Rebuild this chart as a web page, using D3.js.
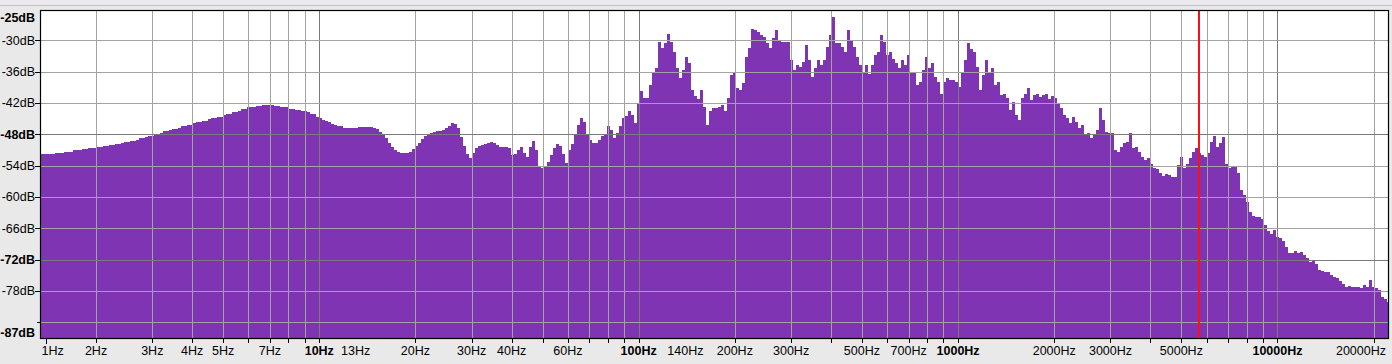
<!DOCTYPE html>
<html><head><meta charset="utf-8">
<script src="https://cdn.jsdelivr.net/npm/d3@7"></script>
<style>
html,body{margin:0;padding:0;background:#e9e9e9;overflow:hidden;}
svg{display:block;font-family:"Liberation Sans",Arial,Helvetica,sans-serif;}
</style>
</head><body>
<svg id="chart" width="1392" height="364"></svg>
<script>
// ---- data ----
const startHz = 1.3354;          // lowest analysed frequency (left edge)
const endHz = 22180;             // highest analysed frequency (right edge)
const binsPerDecade = 106.5;     // log-spaced analysis bins
const levelDb = [
-51.8,-51.8,-51.8,-51.8,-51.8,-51.5,-51.5,-51.5,-51.3,-51.3,
-51.3,-51.0,-51.0,-51.0,-50.8,-50.8,-50.6,-50.6,-50.6,-50.4,
-50.4,-50.2,-50.2,-50.0,-50.0,-49.8,-49.8,-49.6,-49.4,-49.4,
-49.2,-49.2,-49.0,-48.8,-48.8,-48.5,-48.3,-48.3,-47.9,-47.9,
-47.7,-47.4,-47.4,-47.2,-47.0,-47.0,-46.8,-46.5,-46.4,-46.2,
-46.2,-45.8,-45.7,-45.7,-45.4,-45.4,-45.1,-44.9,-44.9,-44.6,
-44.6,-44.3,-44.1,-44.1,-43.8,-43.8,-43.5,-43.1,-43.1,-42.8,
-42.8,-42.8,-42.6,-42.6,-42.45,-42.45,-42.45,-42.45,-42.6,-42.6,
-42.7,-42.8,-42.8,-43.1,-43.1,-43.3,-43.3,-43.5,-43.5,-43.8,
-44.1,-44.2,-44.6,-44.9,-45.2,-45.5,-45.7,-46.0,-46.3,-46.4,
-46.5,-46.7,-46.7,-46.7,-46.7,-46.7,-46.6,-46.6,-46.6,-46.6,
-46.6,-46.7,-47.0,-47.5,-48.0,-48.8,-49.6,-50.4,-51.0,-51.3,
-51.5,-51.5,-51.5,-51.3,-50.9,-50.3,-49.6,-48.9,-48.3,-48.0,
-47.8,-47.6,-47.4,-47.3,-47.1,-46.8,-46.5,-45.9,-46.0,-46.8,
-48.5,-50.3,-51.7,-52.5,-51.5,-50.6,-50.3,-50.1,-49.9,-49.6,
-49.4,-49.6,-50.0,-50.5,
-50.4,-50.4,-50.7,-52.0,-51.8,-51.0,-50.5,-51.5,-52.4,-50.4,
-49.3,-51.0,-54.2,-54.4,-54.1,-53.3,-52.0,-50.7,-49.9,-50.2,
-51.7,-53.5,-51.0,-49.8,-48.2,-46.3,-44.8,-45.6,-48.2,-49.0,
-49.6,-49.6,-49.0,-48.3,-48.0,-46.5,-47.2,-48.7,-47.7,-46.5,
-44.9,-44.5,-43.5,-44.3,-45.9,-42.1,-39.8,-41.1,-41.1,-38.6,
-36.0,-35.4,-30.3,-31.5,-30.6,-28.7,-30.3,-32.2,-35.4,-37.2,
-35.7,-33.2,-34.4,-39.5,-40.7,-41.3,-39.5,-42.7,-46.2,-43.6,
-43.0,-43.0,-42.7,-42.4,-43.6,-41.1,-36.7,-36.2,-39.2,-39.5,
-38.2,-33.2,-31.5,-27.9,-28.0,-28.5,-29.0,-29.4,-30.5,-31.5,
-29.6,-28.0,-30.1,-30.3,-30.3,-30.3,-33.8,-35.7,-34.8,-35.2,
-34.1,-30.9,-33.8,-37.0,-35.4,-33.8,-34.8,-33.8,-31.2,-29.0,
-25.5,-30.6,-30.6,-31.2,-32.2,-28.0,-30.1,-31.2,-33.2,-34.8,
-36.0,-34.8,-36.4,-34.8,-32.9,-32.2,-29.0,-30.3,-32.9,-32.2,
-33.5,-34.4,-35.4,-33.8,-34.8,-32.9,-36.0,-36.0,-38.6,-37.9,
-35.7,-33.2,-35.4,-34.4,-37.0,-37.9,-40.2,-37.9,-37.3,-37.6,
-37.6,-37.9,-38.9,
-36.3,-33.8,-30.6,-31.7,-32.2,-35.05,-39.5,-36.6,-33.8,-36.0,
-35.4,-38.6,-37.9,-40.5,-40.2,-41.1,-43.35,-41.75,-44.3,-45.3,
-41.1,-40.2,-39.2,-41.4,-40.5,-40.2,-40.9,-40.5,-40.2,-41.3,
-40.7,-41.1,-42.1,-43.0,-44.3,-44.9,-45.9,-44.6,-45.6,-46.7,
-46.2,-48.1,-47.8,-48.8,-48.1,-47.2,-43.0,-45.3,-47.5,-47.8,
-47.8,-51.0,-51.3,-50.4,-49.7,-49.4,-47.8,-50.7,-50.4,-51.3,
-52.3,-52.9,-52.6,-53.7,-54.5,-54.7,-55.35,-55.9,-55.6,-55.8,
-56.1,-56.1,-53.9,-52.3,-54.5,-53.6,-52.6,-51.3,-50.7,-51.6,
-52.0,-52.3,-51.5,-49.4,-48.3,-50.4,-49.7,-48.5,-53.6,-54.5,
-54.2,-54.2,-55.5,-58.7,-59.6,-60.9,-62.8,-63.6,-63.8,-63.9,
-64.3,-65.4,-66.6,-67.0,-66.3,-67.6,-67.9,-68.4,-69.6,-70.8,
-70.8,-70.3,-70.7,-70.5,-71.1,-71.6,-72.4,-72.2,-72.8,-74.0,
-74.1,-74.3,-74.3,-74.9,-75.3,-75.6,-76.0,-76.7,-77.2,-77.1,
-77.2,-77.2,-77.3,-77.5,-76.9,-77.2,-75.9,-77.2,-77.5,-77.8,
-79.1,-79.6,-80.05
];
const dbMin = -87;
const dbMax = -24.2;
const yGridDb = [-30,-36,-42,-48,-54,-60,-66,-72,-78,-84];
const yLabelDb = [-30,-36,-42,-48,-54,-60,-66,-72,-78];
const yMajorDb = [-48,-72];
const yEdgeLabels = ["-25dB","-87dB"];
const xLabelHz = [1,2,3,4,5,7,10,13,20,30,40,60,100,140,200,300,500,700,1000,2000,3000,5000,10000,20000];
const xMajorHz = [10,100,1000,10000];
const markerHz = 5667;

// ---- layout ----
const W = 1392, H = 364;
const L = 40, R = 1388, T = 10, B = 338;
const purple = "#7f34b4";

const svg = d3.select("#chart");
const x = d3.scaleLog().domain([startHz, endHz]).range([L, R]);
const y = d3.scaleLinear().domain([dbMin, dbMax]).range([B, T]);

// background
svg.append("rect").attr("width", W).attr("height", H).attr("fill", "#e9e9e9");
svg.append("rect").attr("width", W).attr("height", 5).attr("fill", "#ebe9ee");
svg.append("line").attr("x1", 0).attr("x2", W).attr("y1", 5.5).attr("y2", 5.5)
  .attr("stroke", "#c2c2c2").attr("stroke-width", 1);
svg.append("rect").attr("x", L).attr("y", T).attr("width", R - L).attr("height", B - T).attr("fill", "#ffffff");

svg.append("clipPath").attr("id", "plotClip").append("rect")
  .attr("x", L + 1).attr("y", T + 1).attr("width", R - L - 1).attr("height", B - T - 1);

// spectrum fill
const pts = levelDb.map((v, i) => ({ f: startHz * Math.pow(10, i / binsPerDecade), v }));
pts.push({ f: startHz * Math.pow(10, levelDb.length / binsPerDecade), v: levelDb[levelDb.length - 1] });
const area = d3.area()
  .x(d => x(d.f)).y0(y(dbMin)).y1(d => y(d.v))
  .curve(d3.curveStepAfter);
svg.append("path").datum(pts).attr("d", area)
  .attr("fill", purple).attr("clip-path", "url(#plotClip)")
  .attr("shape-rendering", "crispEdges");

// grid
const grid = svg.append("g").attr("clip-path", "url(#plotClip)").attr("shape-rendering", "crispEdges");
const gridHz = [];
for (let k = 0; k <= 4; k++) for (let n = 1; n <= 9; n++) {
  const f = n * Math.pow(10, k);
  if (f > startHz && f < endHz) gridHz.push(f);
}
const px = v => Math.round(v) + 0.5;
grid.selectAll("line.v").data(gridHz).join("line")
  .attr("x1", d => px(x(d))).attr("x2", d => px(x(d)))
  .attr("y1", T).attr("y2", B)
  .attr("stroke", d => xMajorHz.includes(d) ? "#7a7a7a" : "#a3a3a3").attr("stroke-width", 1);
grid.selectAll("line.h").data(yGridDb).join("line")
  .attr("x1", L).attr("x2", R)
  .attr("y1", d => px(y(d))).attr("y2", d => px(y(d)))
  .attr("stroke", d => yMajorDb.includes(d) ? "#7a7a7a" : "#a3a3a3").attr("stroke-width", 1);

// border
svg.append("rect").attr("x", L + 0.5).attr("y", T + 0.5).attr("width", R - L).attr("height", B - T)
  .attr("fill", "none").attr("stroke", "#000").attr("stroke-width", 1.2);

// y axis labels and ticks
const yAx = svg.append("g");
yAx.selectAll("line").data(yGridDb).join("line")
  .attr("x1", d => yLabelDb.includes(d) ? L - 5 : L - 3).attr("x2", L)
  .attr("y1", d => px(y(d))).attr("y2", d => px(y(d)))
  .attr("stroke", "#000").attr("stroke-width", 1);
yAx.selectAll("text.t").data(yLabelDb).join("text")
  .attr("x", L - 5).attr("y", d => y(d) + 4.5)
  .attr("text-anchor", "end").attr("font-size", 12.5)
  .attr("font-weight", d => yMajorDb.includes(d) ? "bold" : "normal")
  .attr("fill", "#000").text(d => d + "dB");
yAx.append("text").attr("x", L - 5).attr("y", T + 12.3).attr("text-anchor", "end")
  .attr("font-size", 12.5).attr("font-weight", "bold").text(yEdgeLabels[0]);
yAx.append("text").attr("x", L - 5).attr("y", B - 1.5).attr("text-anchor", "end")
  .attr("font-size", 12.5).attr("font-weight", "bold").text(yEdgeLabels[1]);

// x axis ticks and labels
const xAx = svg.append("g");
const tickHz = gridHz.filter(f => f >= 2);
xAx.selectAll("line").data(tickHz).join("line")
  .attr("x1", d => px(x(d))).attr("x2", d => px(x(d)))
  .attr("y1", B + 1).attr("y2", B + 5)
  .attr("stroke", "#000").attr("stroke-width", 1);
xAx.append("line").attr("x1", L + 6.5).attr("x2", L + 6.5).attr("y1", B + 1).attr("y2", B + 6)
  .attr("stroke", "#000");
const xt = xAx.selectAll("text").data(xLabelHz).join("text")
  .attr("x", d => d < startHz ? L + 1.5 : x(d))
  .attr("y", 355)
  .attr("text-anchor", d => d < startHz ? "start" : "middle")
  .attr("font-size", 12.5)
  .attr("font-weight", d => xMajorHz.includes(d) ? "bold" : "normal")
  .attr("fill", "#000")
  .text(d => d + "Hz");
// keep the last label inside the plot's right edge
xt.each(function () {
  const bb = this.getBBox();
  if (bb.x + bb.width > R - 2) {
    d3.select(this).attr("text-anchor", "end").attr("x", R - 2);
  }
});

// marker (drawn last so it sits on top), 2px wide
const mx = Math.floor(x(markerHz));
svg.append("rect")
  .attr("x", mx - 0.5).attr("y", T + 1).attr("width", 2).attr("height", B - T - 1)
  .attr("fill", "#ff1010")
  .attr("shape-rendering", "crispEdges");
</script>
</body></html>
